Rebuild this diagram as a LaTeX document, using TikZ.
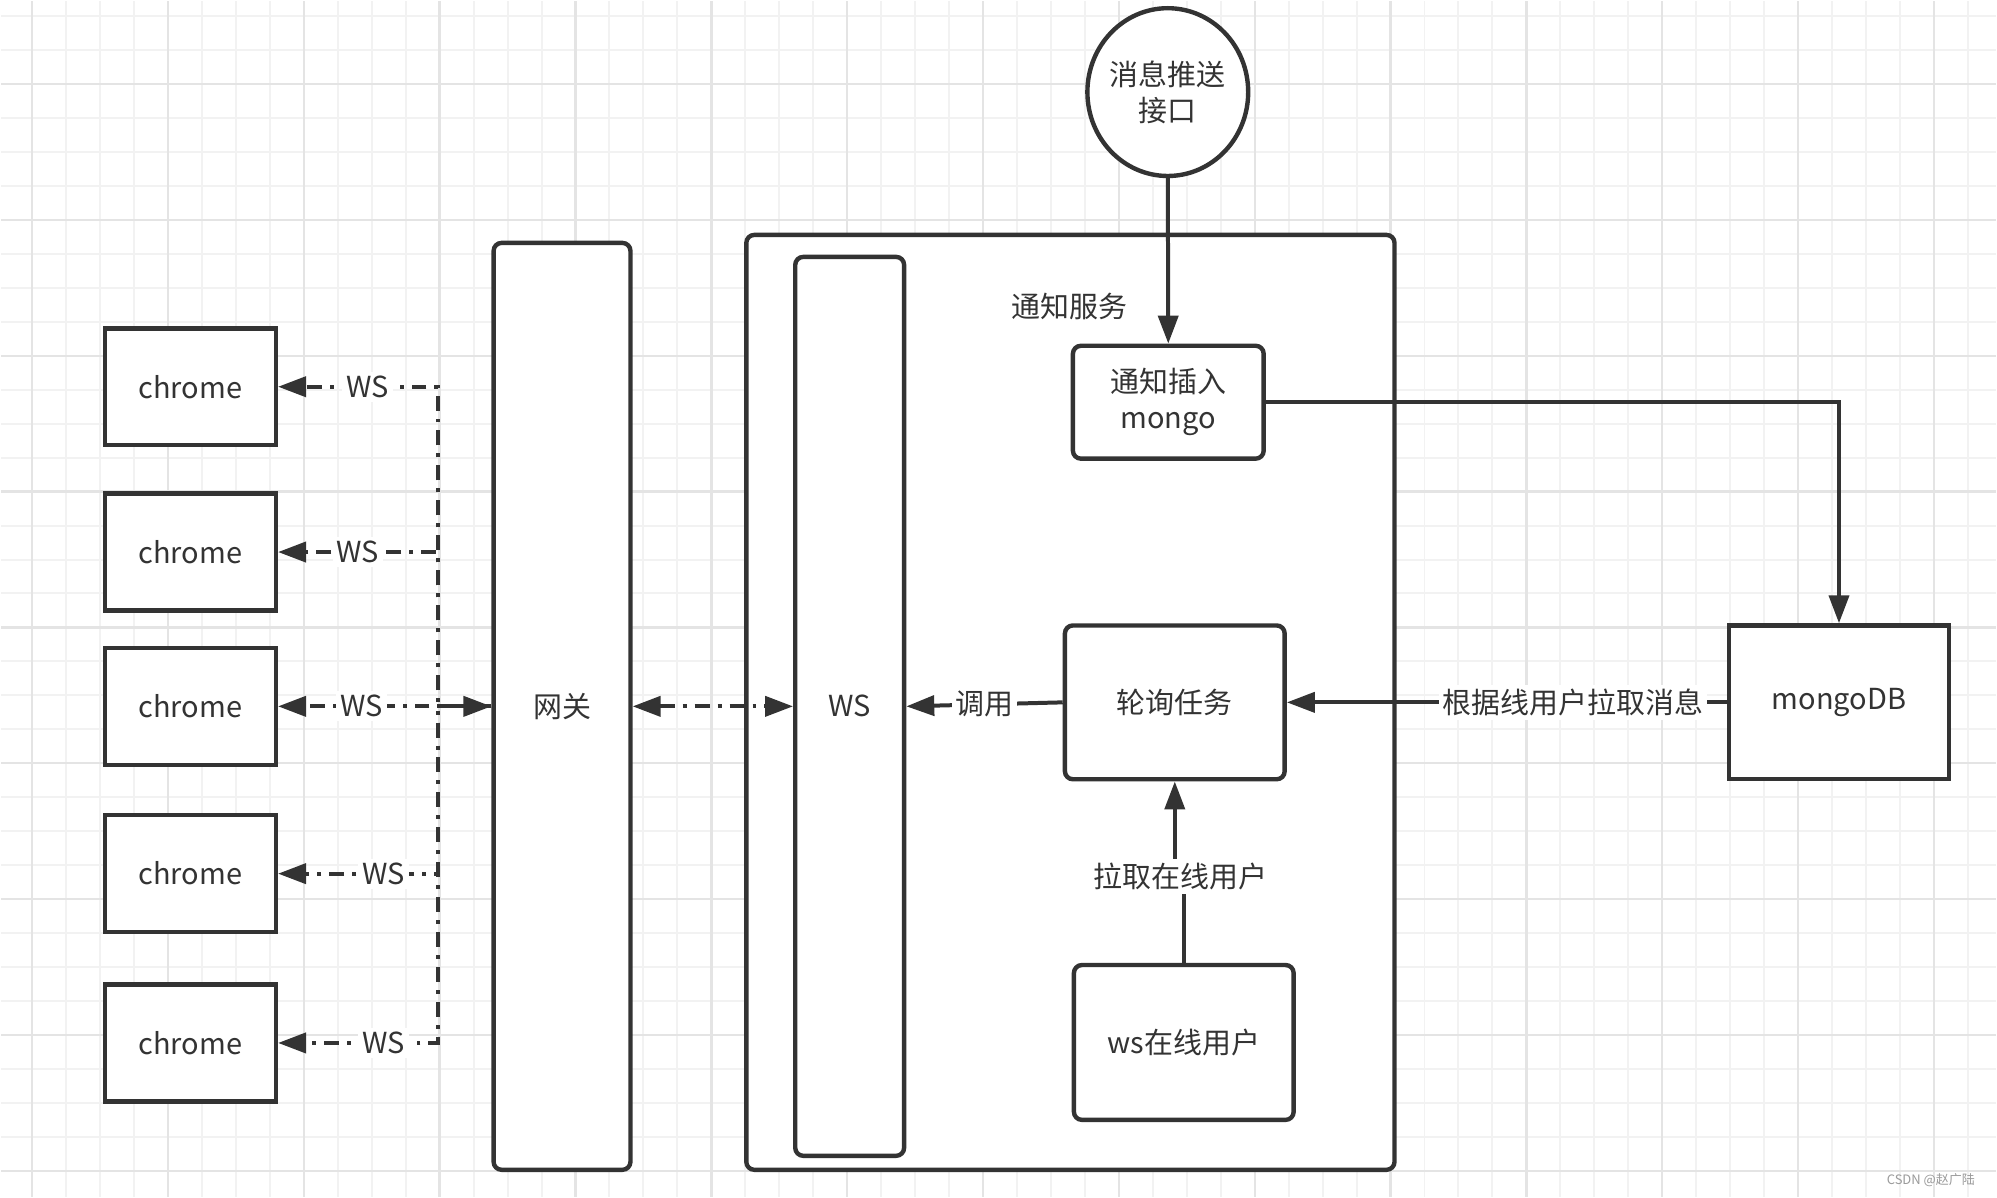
\documentclass[tikz,border=0pt]{standalone}
\usepackage{fontspec}
\setmainfont{Noto Sans CJK SC}
\usepackage{xcolor}
\usepackage{tikz}
\usetikzlibrary{arrows.meta,positioning,shapes.geometric}
\definecolor{darkline}{HTML}{333333}
\definecolor{gridminor}{HTML}{F2F2F2}
\definecolor{gridmajor}{HTML}{E4E4E4}
\definecolor{markgray}{HTML}{9A9A9A}

\begin{document}
\begin{tikzpicture}[
    x=0.5pt,y=-0.5pt,
    >={Triangle[length=14pt,width=10pt]},
    every node/.style={align=center,font=\fontsize{14.5}{18}\selectfont,text=darkline},
    box/.style={draw=darkline,line width=2.2pt,fill=white,inner sep=2pt},
    rbox/.style={box,rounded corners=4pt},
    chromebox/.style={box,minimum width=85.5pt,minimum height=58.5pt},
    conn/.style={draw=darkline,line width=2pt},
    wsline/.style={conn,dash pattern=on 7.5pt off 4pt on 2pt off 4pt},
    lbl/.style={fill=white,inner sep=2pt},
    minorline/.style={gridminor,line width=1pt},
    majorline/.style={gridmajor,line width=1.2pt}
  ]
  \fill[white] (0,0) rectangle (1997,1197);
  \foreach \x in {31,65,...,1997} \draw[minorline] (\x,0) -- (\x,1197);
  \foreach \y in {15,49,...,1197} \draw[minorline] (0,\y) -- (1997,\y);
  \foreach \x in {31,167,...,1997} \draw[majorline] (\x,0) -- (\x,1197);
  \foreach \y in {83,219,...,1197} \draw[majorline] (0,\y) -- (1997,\y);
  \useasboundingbox (0,0) rectangle (1997,1197);

  \node[chromebox] (c1) at (189.5,386) {chrome};
  \node[chromebox] (c2) at (189.5,551.5) {chrome};
  \node[chromebox] (c3) at (189.5,706) {chrome};
  \node[chromebox] (c4) at (189.5,873.5) {chrome};
  \node[chromebox] (c5) at (189.5,1043) {chrome};

  \node[rbox,minimum width=68.5pt,minimum height=464pt] (gw) at (561.5,706) {网关};
  \node[rbox,minimum width=324.5pt,minimum height=468pt] (svc) at (1070.5,702) {};
  \node[rbox,minimum width=54.5pt,minimum height=450pt] (ws) at (849.5,706) {WS};
  \node (svclbl) at (1070,306) {通知服务};

  \node[box,ellipse,inner sep=-2pt,minimum width=80.5pt,minimum height=84pt] (api) at (1168,91) {消息推送\\接口};
  \node[rbox,minimum width=95.5pt,minimum height=56.5pt] (ins) at (1168.5,401.5) {通知插入\\mongo};
  \node[rbox,minimum width=110pt,minimum height=77pt] (poll) at (1175,702) {轮询任务};
  \node[rbox,minimum width=110pt,minimum height=77.5pt] (onl) at (1184,1042.5) {ws在线用户};
  \node[box,minimum width=110pt,minimum height=77pt] (db) at (1840,702) {mongoDB};
  \node[font=\fontsize{6.5}{8}\selectfont,text=markgray] (mark) at (1932,1180) {CSDN @赵广陆};

  \coordinate (hub) at (437,706);
  \draw[wsline,->] (gw.west) -- (hub) |- node[lbl,pos=.72]{WS} (c1.east);
  \draw[wsline,->] (gw.west) -- (hub) |- node[lbl,pos=.75]{WS} (c2.east);
  \draw[wsline,->] (gw.west) -- (hub) |- node[lbl,pos=.67]{WS} (c4.east);
  \draw[wsline,->] (gw.west) -- (hub) |- node[lbl,pos=.67]{WS} (c5.east);
  \draw[wsline,<->] (gw.west) -- node[lbl,pos=.61]{WS} (c3.east);
  \draw[wsline,<->] (gw.east) -- (ws.west);

  \draw[conn,->] (api.south) -- (ins.north);
  \draw[conn,->] (ins.east) -| (db.north);
  \draw[conn,->] (db.west) -- node[lbl,pos=.35]{根据线用户拉取消息} (poll.east);
  \draw[conn,->] (poll.west) -- node[lbl]{调用} (ws.east);

  \coordinate (pullc) at (1181,876);
  \draw[conn,->] (onl.north) |- (pullc) -| (poll.south);
  \node[lbl] (pull) at (pullc) {拉取在线用户};
\end{tikzpicture}
\end{document}
